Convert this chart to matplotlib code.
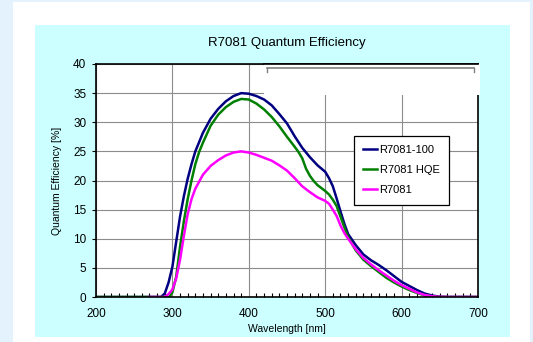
import matplotlib
matplotlib.use("Agg")
import matplotlib.pyplot as plt
from matplotlib.patches import Rectangle

plt.rcParams['font.family'] = ['Liberation Sans', 'DejaVu Sans']

# wavelength [nm] and quantum efficiency [%]
wl_100 = [200, 285, 290, 295, 300, 305, 310, 315, 320, 325, 330, 340, 350, 360, 370,
          380, 390, 400, 410, 420, 430, 440, 450, 460, 470, 480, 490, 500, 505, 510,
          515, 520, 525, 530, 540, 550, 560, 570, 580, 590, 600, 610, 620, 630, 640,
          650, 660, 700]
qe_100 = [0, 0, 0.6, 2.5, 5.2, 9.5, 13.8, 17.3, 20.3, 22.8, 25.0, 28.2, 30.6, 32.3, 33.6,
          34.5, 35.0, 34.9, 34.5, 33.9, 32.9, 31.4, 29.8, 27.6, 25.6, 24.0, 22.6, 21.5, 20.4, 19.0,
          16.9, 14.7, 12.6, 10.8, 8.9, 7.3, 6.3, 5.5, 4.6, 3.6, 2.6, 1.9, 1.2, 0.6, 0.25,
          0.05, 0, 0]

wl_hqe = [200, 296, 300, 305, 310, 315, 320, 325, 330, 335, 340, 350, 360, 370, 380,
          390, 400, 410, 420, 430, 440, 450, 460, 465, 470, 475, 480, 485, 490, 500,
          505, 510, 515, 520, 525, 530, 540, 550, 560, 570, 580, 590, 600, 610, 620,
          630, 640, 650, 700]
qe_hqe = [0, 0, 0.8, 3.5, 8.6, 13.0, 16.8, 20.0, 22.8, 24.9, 26.5, 29.4, 31.3, 32.6, 33.5,
          34.0, 33.9, 33.2, 32.2, 30.9, 29.3, 27.5, 25.8, 24.9, 23.8, 22.0, 20.8, 19.9, 19.2, 18.2,
          17.6, 16.7, 15.6, 13.8, 12.0, 10.3, 8.0, 6.4, 5.3, 4.3, 3.3, 2.5, 1.8, 1.2, 0.7,
          0.3, 0.1, 0, 0]

wl_std = [270, 290, 295, 300, 305, 310, 315, 320, 325, 330, 340, 350, 360, 370, 380,
          390, 400, 410, 420, 430, 440, 450, 460, 470, 480, 490, 500, 505, 510, 515,
          520, 525, 530, 540, 550, 560, 570, 580, 590, 600, 610, 620, 630, 640, 650,
          660, 700]
qe_std = [0, 0, 0.5, 1.3, 3.2, 6.4, 10.5, 14.2, 16.8, 18.6, 21.0, 22.5, 23.5, 24.3, 24.8,
          25.0, 24.8, 24.4, 23.9, 23.4, 22.6, 21.7, 20.4, 19.0, 18.0, 17.1, 16.5, 16.0, 15.0, 13.9,
          12.3, 11.0, 10.0, 8.2, 6.7, 5.6, 4.6, 3.7, 2.8, 2.05, 1.4, 0.8, 0.35, 0.12, 0.03,
          0, 0]

series = [
    ("R7081-100", wl_100, qe_100, "#000080"),
    ("R7081 HQE", wl_hqe, qe_hqe, "#008000"),
    ("R7081", wl_std, qe_std, "#FF00FF"),
]

W, H = 533, 342
fig = plt.figure(figsize=(W / 100, H / 100), dpi=100, facecolor="#E4F2FD")

# white page and the turquoise chart panel behind the axes
fig.patches.append(Rectangle((13 / W, 0), 517 / W, 340 / H, transform=fig.transFigure,
                             facecolor="white", edgecolor="none", zorder=-2))
fig.patches.append(Rectangle((35 / W, 5 / H), 475 / W, 312 / H, transform=fig.transFigure,
                             facecolor="#CCFFFF", edgecolor="none", zorder=-1))

ax = fig.add_axes([96 / W, 45 / H, 382 / W, 233 / H])
ax.set_facecolor("white")

for name, x, y, c in series:
    ax.plot(x, y, color=c, lw=1.8, label=name, zorder=4, solid_joinstyle="round")

ax.set_xlim(200, 700)
ax.set_ylim(0, 40)
ax.set_xticks(range(200, 701, 100))
ax.set_xticks(range(210, 700, 10), minor=True)
ax.set_yticks(range(0, 41, 5))
ax.grid(True, which="major", color="#8C8C8C", lw=0.8, zorder=1)
ax.tick_params(axis="x", which="major", length=0, pad=8, labelsize=8.5)
ax.tick_params(axis="x", which="minor", direction="in", length=3, width=0.8, color="black")
ax.tick_params(axis="y", which="major", direction="out", length=3, width=0.8, pad=4, labelsize=8.5)
for s in ax.spines.values():
    s.set_linewidth(1.2)
    s.set_color("black")
    s.set_zorder(5)

# blank strip at the top right that hides the grid, with a thin grey bracket
ax.add_patch(Rectangle((420, 34.6), 282, 5.4, facecolor="white", edgecolor="none",
                       zorder=6, clip_on=False))
ax.plot([424, 695], [39.3, 39.3], color="#808080", lw=1.2, zorder=7)
ax.plot([424, 424], [39.3, 38.7], color="#808080", lw=1.0, zorder=7)
ax.plot([695, 695], [39.3, 38.7], color="#808080", lw=1.0, zorder=7)
ax.plot([420, 700], [40, 40], color="black", lw=1.2, zorder=7, clip_on=False)

ax.set_xlabel("Wavelength [nm]", fontsize=7.5, labelpad=3)
ax.set_ylabel("Quantum Efficiency [%]", fontsize=7.5, labelpad=8)
fig.text(287 / W, 1 - 43 / H, "R7081 Quantum Efficiency", ha="center", va="center", fontsize=9.5)

leg = ax.legend(loc="upper left", bbox_to_anchor=((353.5 - 96) / 382, (297 - 135.7) / 233),
                fontsize=8, frameon=True, fancybox=False, framealpha=1,
                edgecolor="black", handlelength=1.3, handletextpad=0.2,
                labelspacing=0.9, borderpad=0.85, borderaxespad=0)
leg.get_frame().set_linewidth(0.9)
leg.set_zorder(8)

fig.savefig("out.png", dpi=100, facecolor=fig.get_facecolor())
